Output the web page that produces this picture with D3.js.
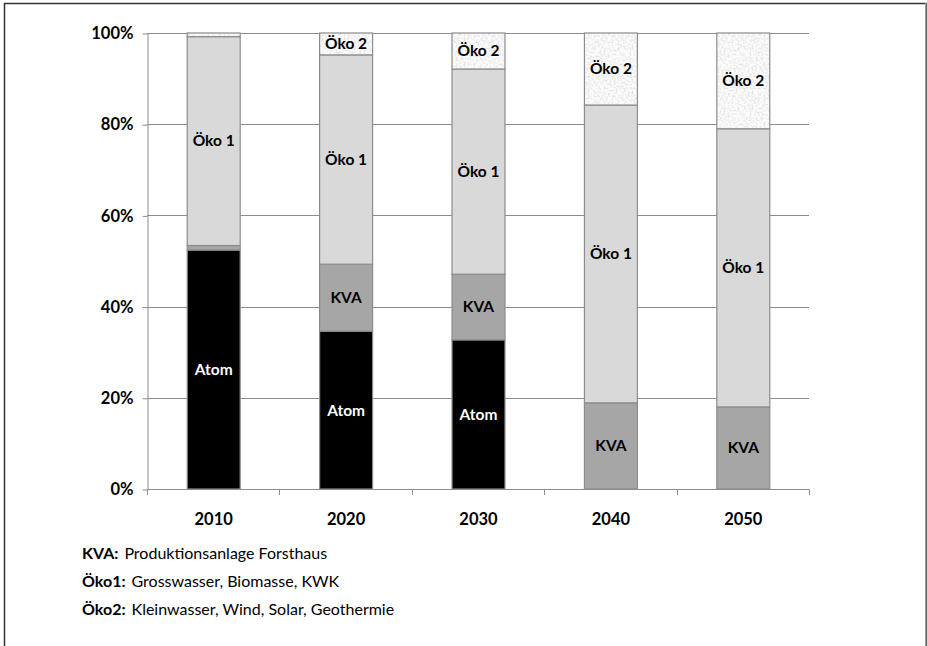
<!DOCTYPE html>
<html>
<head>
<meta charset="utf-8">
<script src="https://cdn.jsdelivr.net/npm/d3@7"></script>
<style>
  body { margin: 0; background: #fff; }
  text { font-family: Lato, "Open Sans", sans-serif; }
</style>
</head>
<body>
<div id="chart"></div>
<script>
// values in percent
var years = ["2010", "2020", "2030", "2040", "2050"];
var atom  = [52.4, 34.6, 32.7, 0, 0];
var kva   = [1.0, 14.7, 14.4, 18.9, 18.0];
var oeko1 = [45.8, 45.9, 45.0, 65.3, 61.0];
var oeko2 = [0.8, 4.8, 7.9, 15.8, 21.0];
var seriesKeys = ["Atom", "KVA", "Öko 1", "Öko 2"];
var yTicks = [0, 0.2, 0.4, 0.6, 0.8, 1];
var notes = [
  ["KVA:", "Produktionsanlage Forsthaus"],
  ["Öko1:", "Grosswasser, Biomasse, KWK"],
  ["Öko2:", "Kleinwasser, Wind, Solar, Geothermie"]
];

(function() {
  var width = 927,
    height = 646;

  var rows = years.map(function(y, i) {
    return { year: y, "Atom": atom[i], "KVA": kva[i], "Öko 1": oeko1[i], "Öko 2": oeko2[i] };
  });

  var svg = d3.select("#chart")
    .append("svg")
    .attr("width", width)
    .attr("height", height)

  var defs = svg.append("defs")

  // speckled texture for Öko 2
  var filter = defs.append("filter")
    .attr("id", "speckle")
    .attr("x", 0).attr("y", 0).attr("width", 1).attr("height", 1)
  filter.append("feTurbulence")
    .attr("type", "fractalNoise")
    .attr("baseFrequency", 0.5)
    .attr("numOctaves", 2)
    .attr("seed", 3)
  filter.append("feColorMatrix")
    .attr("type", "matrix")
    .attr("values", "0.55 0 0 0 0.64  0.55 0 0 0 0.64  0.55 0 0 0 0.64  0 0 0 0 1")

  defs.append("pattern")
    .attr("id", "oeko2-fill")
    .attr("patternUnits", "userSpaceOnUse")
    .attr("width", 60)
    .attr("height", 60)
    .append("rect")
    .attr("width", 60)
    .attr("height", 60)
    .attr("filter", "url(#speckle)")

  var fills = {
    "Atom": "#000000",
    "KVA": "#a6a6a6",
    "Öko 1": "#d9d9d9",
    "Öko 2": "url(#oeko2-fill)"
  }

  // outer frame
  svg.append("rect")
    .attr("x", 4.5).attr("y", 3.5)
    .attr("width", 921.5).attr("height", 700)
    .attr("fill", "none")
    .attr("stroke", "#333")
    .attr("stroke-width", 1.5)
  svg.append("line")
    .attr("x1", 925.5).attr("x2", 925.5)
    .attr("y1", 3).attr("y2", height)
    .attr("stroke", "#999").attr("stroke-width", 1)

  var x = d3.scaleBand()
    .domain(years)
    .range([147, 809])
    .paddingInner(0.6)
    .paddingOuter(0.3)

  var y = d3.scaleLinear()
    .domain([0, 1])
    .range([489, 33])

  // gridlines
  svg.append("g")
    .selectAll("line")
    .data(yTicks.filter(function(d) { return d > 0 }))
    .enter().append("line")
    .attr("x1", 147).attr("x2", 809)
    .attr("y1", function(d) { return Math.round(y(d)) + 0.5 })
    .attr("y2", function(d) { return Math.round(y(d)) + 0.5 })
    .attr("stroke", "#8c8c8c")
    .attr("stroke-width", 1)

  // y axis
  var yAxis = svg.append("g")
    .attr("transform", "translate(147.5,0.5)")
    .call(d3.axisLeft(y).tickValues(yTicks).tickFormat(d3.format(".0%")).tickSize(5).tickSizeOuter(0).tickPadding(9))
  yAxis.select(".domain").attr("stroke", "#8c8c8c")
  yAxis.selectAll(".tick line").attr("stroke", "#8c8c8c")
  yAxis.selectAll("text")
    .attr("font-family", "Lato, sans-serif")
    .attr("font-size", 16.5)
    .attr("font-weight", "bold")
    .attr("fill", "#000")

  // stacked bars
  var stacked = d3.stack().keys(seriesKeys)(rows.map(function(r) {
    var o = { year: r.year };
    seriesKeys.forEach(function(k) { o[k] = r[k] / 100 });
    return o;
  }))

  var layers = svg.selectAll(".layer")
    .data(stacked)
    .enter().append("g")
    .attr("class", "layer")

  layers.selectAll("rect")
    .data(function(d) { return d.filter(function(s) { return s[1] - s[0] > 0 }) })
    .enter().append("rect")
    .attr("x", function(d) { return x(d.data.year) + 0.5 })
    .attr("y", function(d) { return y(d[1]) })
    .attr("width", x.bandwidth())
    .attr("height", function(d) { return y(d[0]) - y(d[1]) })
    .attr("fill", function() { return fills[d3.select(this.parentNode).datum().key] })
    .attr("stroke", "#8c8c8c")
    .attr("stroke-width", 1.2)

  // segment labels
  layers.selectAll(".seg-label")
    .data(function(d) {
      return d.filter(function(s) { return s[1] - s[0] > 0.03 })
        .map(function(s) { return { key: d.key, s: s } })
    })
    .enter().append("text")
    .attr("class", "seg-label")
    .attr("x", function(d) { return x(d.s.data.year) + x.bandwidth() / 2 + 0.5 })
    .attr("y", function(d) { return (y(d.s[0]) + y(d.s[1])) / 2 })
    .attr("dy", "0.35em")
    .attr("text-anchor", "middle")
    .attr("font-size", 15.5)
    .attr("font-weight", "bold")
    .attr("fill", function(d) { return d.key == "Atom" ? "#fff" : "#000" })
    .text(function(d) { return d.key })

  // x axis baseline with ticks at category boundaries
  var xg = svg.append("g")
  xg.append("line")
    .attr("x1", 147).attr("x2", 809.5)
    .attr("y1", 489.5).attr("y2", 489.5)
    .attr("stroke", "#8c8c8c")
  var bounds = years.map(function(d) { return x(d) - (x.step() - x.bandwidth()) / 2 })
  bounds.push(bounds[bounds.length - 1] + x.step())
  xg.selectAll(".xtick")
    .data(bounds)
    .enter().append("line")
    .attr("x1", function(d) { return Math.round(d) + 0.5 })
    .attr("x2", function(d) { return Math.round(d) + 0.5 })
    .attr("y1", 489.5).attr("y2", 495)
    .attr("stroke", "#8c8c8c")
  xg.selectAll(".xlabel")
    .data(years)
    .enter().append("text")
    .attr("x", function(d) { return x(d) + x.bandwidth() / 2 + 0.5 })
    .attr("y", 525)
    .attr("text-anchor", "middle")
    .attr("font-size", 16.5)
    .attr("font-weight", "bold")
    .text(function(d) { return d })

  // notes below the chart
  var note = svg.selectAll(".note")
    .data(notes)
    .enter().append("text")
    .attr("class", "note")
    .attr("x", 82)
    .attr("y", function(d, i) { return 559 + i * 28 })
    .attr("font-size", 16)
  note.append("tspan")
    .attr("font-weight", "bold")
    .text(function(d) { return d[0] })
  note.append("tspan")
    .attr("dx", 6)
    .text(function(d) { return d[1] })
})();
</script>
</body>
</html>
